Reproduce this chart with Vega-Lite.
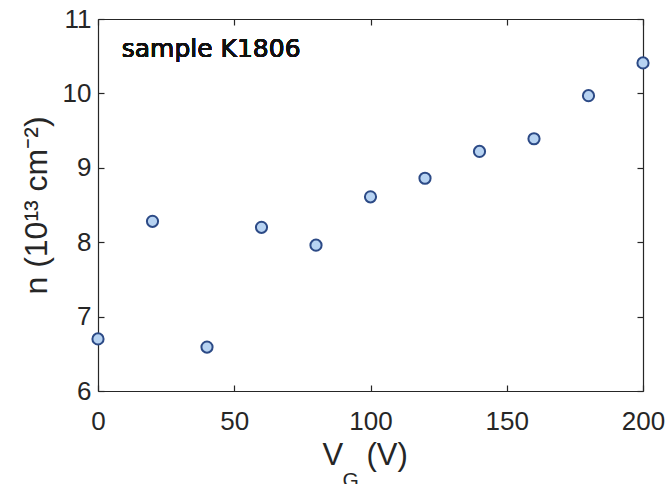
{
  "$schema": "https://vega.github.io/schema/vega-lite/v6.json",
  "autosize": {"type": "none"},
  "padding": {"left": 98, "top": 19, "right": 24, "bottom": 93},
  "width": 545,
  "height": 372,
  "background": "white",
  "config": {
    "view": {"stroke": null},
    "axis": {
      "grid": false,
      "domainColor": "#262626",
      "tickColor": "#262626",
      "labelColor": "#262626",
      "titleColor": "#262626",
      "labelFont": "Liberation Sans",
      "titleFont": "Liberation Sans",
      "titleFontWeight": "normal",
      "labelFontSize": 26,
      "domainWidth": 1.2,
      "tickWidth": 1.2,
      "labelFlush": false,
      "labelOverlap": false
    }
  },
  "data": {
    "values": [
      {"VG": 0, "n": 6.70},
      {"VG": 20, "n": 8.28},
      {"VG": 40, "n": 6.59},
      {"VG": 60, "n": 8.20},
      {"VG": 80, "n": 7.96},
      {"VG": 100, "n": 8.61},
      {"VG": 120, "n": 8.86},
      {"VG": 140, "n": 9.22},
      {"VG": 160, "n": 9.39},
      {"VG": 180, "n": 9.97},
      {"VG": 200, "n": 10.41}
    ]
  },
  "resolve": {"axis": {"x": "independent", "y": "independent"}},
  "layer": [
    {
      "mark": {"type": "point", "opacity": 0},
      "encoding": {
        "x": {"field": "VG", "type": "quantitative", "scale": {"domain": [0, 200], "nice": false, "zero": false},
          "axis": {"orient": "top", "values": [0, 50, 100, 150, 200], "labels": false, "tickSize": -6, "title": null}},
        "y": {"field": "n", "type": "quantitative", "scale": {"domain": [6, 11], "nice": false, "zero": false},
          "axis": {"orient": "right", "values": [6, 7, 8, 9, 10, 11], "labels": false, "tickSize": -6, "title": null}}
      }
    },
    {
      "mark": {"type": "point", "opacity": 0},
      "encoding": {
        "x": {"field": "VG", "type": "quantitative", "scale": {"domain": [0, 200], "nice": false, "zero": false},
          "axis": {"orient": "bottom", "domain": false, "ticks": false, "labels": false, "title": "G", "titleFontSize": 21, "titleX": 244, "titleY": 95, "titleAlign": "left", "titleBaseline": "alphabetic", "titleAnchor": "start"}},
        "y": {"field": "n", "type": "quantitative", "scale": {"domain": [6, 11], "nice": false, "zero": false}, "axis": null}
      }
    },
    {
      "mark": {"type": "point", "opacity": 0},
      "encoding": {
        "x": {"field": "VG", "type": "quantitative", "scale": {"domain": [0, 200], "nice": false, "zero": false},
          "axis": {"orient": "bottom", "domain": false, "ticks": false, "labels": false, "title": "(V)", "titleFontSize": 31, "titleX": 268, "titleY": 73, "titleAlign": "left", "titleBaseline": "alphabetic", "titleAnchor": "start"}},
        "y": {"field": "n", "type": "quantitative", "scale": {"domain": [6, 11], "nice": false, "zero": false}, "axis": null}
      }
    },
    {
      "mark": {"type": "text", "align": "left", "baseline": "alphabetic", "font": "DejaVu Sans", "fontSize": 25, "fontWeight": "normal", "fill": "#111111", "stroke": null},
      "encoding": {
        "x": {"datum": 8.7, "type": "quantitative", "scale": {"domain": [0, 200], "nice": false, "zero": false}, "axis": null},
        "y": {"datum": 10.49, "type": "quantitative", "scale": {"domain": [6, 11], "nice": false, "zero": false}, "axis": null},
        "text": {"value": "sample K1806"}
      }
    },
    {
      "mark": {"type": "point", "filled": true, "fill": "#b7d3f2", "stroke": "#2c4a86", "strokeWidth": 2, "size": 125, "opacity": 1},
      "encoding": {
        "x": {"field": "VG", "type": "quantitative", "scale": {"domain": [0, 200], "nice": false, "zero": false},
          "axis": {"orient": "bottom", "values": [0, 50, 100, 150, 200], "tickSize": -6, "labelPadding": 23, "title": "V", "titleFontSize": 31, "titleX": 224, "titleY": 73, "titleAlign": "left", "titleBaseline": "alphabetic", "titleAnchor": "start"}},
        "y": {"field": "n", "type": "quantitative", "scale": {"domain": [6, 11], "nice": false, "zero": false},
          "axis": {"orient": "left", "values": [6, 7, 8, 9, 10, 11], "tickSize": -6, "labelPadding": 13, "title": "n (10¹³ cm⁻²)", "titleFontSize": 32, "titleX": -52, "titleY": 186, "titleAngle": 270, "titleAlign": "center", "titleBaseline": "alphabetic"}}
      }
    }
  ]
}
